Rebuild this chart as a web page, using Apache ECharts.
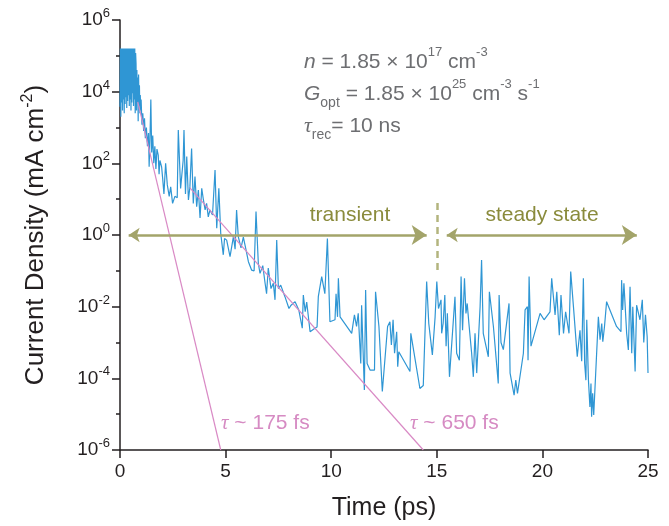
<!DOCTYPE html>
<html>
<head>
<meta charset="utf-8">
<script src="https://cdn.jsdelivr.net/npm/echarts@6/dist/echarts.min.js"></script>
<style>
html,body{margin:0;padding:0;background:#fff;}
#chart{width:669px;height:526px;}
</style>
</head>
<body>
<div id="chart"></div>
<script>
// ---- data ----
const timePs = [
0.00,0.02,0.04,0.06,0.08,0.10,0.12,0.14,0.16,0.18,0.20,0.22,0.24,0.26,0.28,0.30,0.32,0.34,0.36,0.38,
0.40,0.42,0.44,0.46,0.48,0.50,0.52,0.54,0.56,0.58,0.60,0.62,0.64,0.66,0.68,0.70,0.72,0.74,
0.76,0.78,0.80,0.82,0.84,0.86,0.88,0.90,0.92,0.94,0.96,0.98,
1.00,1.04,1.08,1.12,1.16,1.20,1.25,1.30,1.35,1.38,1.42,1.46,1.50,1.55,1.60,1.65,1.70,1.75,1.81,1.85,1.89,
1.97,2.02,2.08,2.16,2.24,2.33,2.40,2.49,2.60,2.71,2.76,2.87,2.95,2.99,3.03,3.10,3.16,3.24,3.31,3.39,
3.47,3.55,3.63,3.71,3.79,3.87,3.95,4.03,4.10,4.18,4.26,4.38,4.50,4.58,4.68,4.77,4.89,4.95,5.05,5.21,
5.37,5.45,5.52,5.60,5.73,5.84,5.95,6.08,6.23,6.35,6.44,6.55,6.63,6.76,6.87,6.94,7.02,7.15,7.26,7.34,
7.42,7.50,7.61,7.81,8.00,8.10,8.29,8.47,8.63,8.68,8.77,8.84,9.00,9.23,9.33,9.39,9.55,9.63,9.70,9.82,
9.94,10.18,10.23,10.30,10.34,10.42,10.97,11.10,11.20,11.28,11.40,11.44,11.57,11.63,11.70,11.84,12.05,12.10,12.26,12.42,
12.67,12.78,12.85,12.93,13.00,13.10,13.15,13.20,13.73,13.77,14.20,14.36,14.52,14.62,14.79,14.92,15.00,15.08,15.20,15.23,
15.30,15.38,15.44,15.50,15.60,15.86,15.94,16.07,16.15,16.22,16.31,16.38,16.44,16.52,16.65,16.73,16.81,16.89,17.05,17.12,
17.20,17.44,17.49,17.68,17.91,17.95,18.04,18.15,18.42,18.47,18.66,18.74,18.82,19.10,19.18,19.29,19.32,19.37,19.46,19.89,
20.08,20.36,20.44,20.60,20.68,20.80,20.88,21.00,21.10,21.26,21.34,21.47,21.65,21.78,21.86,21.94,22.00,22.06,22.10,22.18,
22.25,22.30,22.33,22.38,22.43,22.65,22.73,22.81,22.86,22.94,23.04,23.51,23.72,23.75,23.80,23.86,23.99,24.07,24.15,24.23,
24.28,24.39,24.46,24.62,24.73,24.80,24.88,24.96,25.00
];
const density = [
3.8e3,1.6e5,2.0e3,1.6e5,5.0e3,1.6e5,3.0e3,1.6e5,6.0e3,1.6e5,2.5e3,1.6e5,4.5e3,1.6e5,7.0e3,1.6e5,3.5e3,1.6e5,5.5e3,1.6e5,
8.0e3,1.6e5,4.0e3,1.6e5,6.0e3,1.6e5,3.0e3,1.6e5,5.0e3,1.6e5,9.0e3,1.6e5,4.0e3,1.6e5,6.0e3,1.6e5,2.5e3,1.2e5,
6.0e4,3.0e3,4.0e4,5.0e3,2.5e4,1.5e3,3.0e4,4.0e3,1.5e4,2.5e3,8.0e3,3.0e3,
6.0e3,1.2e3,2.5e3,8.0e2,1.8e3,5.0e2,1.0e3,3.0e2,7.0e2,80,5.0e2,6.0e3,2.0e2,6.0e2,1.0e2,3.0e2,70,2.5e2,1.7e2,50,1.2e2,
80,38,14,100,25,12,22,7.6,12,11,850,20,18,120,850,14,155,9.5,22,260,
7.6,43,6.2,18,3.0,20,9.5,5.0,7.6,3.2,5.0,3.6,65,1.55,20,1.1,0.28,0.8,0.72,0.25,
0.9,0.4,5.0,0.9,0.44,0.87,0.43,0.18,0.105,0.1,4.5,0.16,0.085,0.14,0.045,0.023,0.12,0.032,0.045,0.0155,
0.72,0.032,0.04,0.019,0.0089,0.011,0.0138,0.0079,0.0025,0.021,0.0072,0.0135,0.002,0.0025,0.0027,0.019,0.069,0.076,0.023,0.8,
0.0038,0.0043,0.023,0.0052,0.062,0.0052,0.0018,0.0059,0.0028,0.0065,2.6e-4,0.011,4.7e-5,0.029,2.6e-4,1.7e-4,1.7e-4,0.026,0.0028,4.3e-5,
0.0028,0.0038,8.5e-4,0.0043,5.0e-4,0.002,2.1e-4,5.5e-4,1.55e-4,0.0018,5.2e-5,6.3e-5,0.05,0.0034,4.5e-4,0.0052,0.05,0.0089,0.0155,0.0018,
0.0034,0.021,7.9e-4,0.0065,1.1e-4,0.019,5.0e-4,3.2e-4,0.069,0.0022,0.062,0.0065,0.0123,0.0034,5.0e-4,1.1e-4,0.0018,1.4e-4,0.01,0.2,
0.0018,4.0e-4,0.026,0.0028,7.2e-5,0.021,0.001,6.3e-4,0.0123,1.4e-4,3.4e-5,8.9e-5,3.8e-5,5.0e-4,0.0081,0.01,3.2e-4,0.069,7.9e-4,0.0065,
0.0043,0.0072,0.062,0.0059,0.026,0.0016,0.021,0.0018,0.0072,0.0018,0.095,0.01,4.0e-4,0.0022,3.0e-4,0.062,2.6e-4,8.9e-5,0.0043,8.9e-5,
1.6e-5,7.2e-5,8.5e-6,3.8e-5,9.5e-6,0.0052,0.0012,0.0034,0.00105,0.0028,0.0138,0.0028,0.002,0.055,0.0081,0.045,0.0018,6.2e-4,0.036,5.0e-4,
0.01,1.55e-4,0.011,0.0043,0.0155,0.001,0.0059,0.00145,1.4e-4
];
// exponential fits (two end points each)
const fit175 = [[0.84, 5.2e3], [4.77, 1e-6]];
const fit650 = [[3.30, 21], [14.36, 1e-6]];
// annotation arrows / divider
const transientArrow = [[0.41, 1], [14.52, 1]];
const steadyArrow = [[15.47, 1], [24.47, 1]];
const divider = [[15, 7.8], [15, 0.093]];
const xTicks = [0, 25, 5];  // min, max, step

const traceData = timePs.map((t, i) => [t, density[i]]);

const FONT = '"Liberation Sans", Arial, Helvetica, sans-serif';
const SERIF = '"Liberation Serif", "DejaVu Serif", serif';
const BLUE = '#2f96d4', PINK = '#d98ac5', OLIVE = '#8a8b3c', OLIVE_L = '#a3a46a';
const GREY = '#6d6e71', PINK_T = '#d68bc3';

const chart = echarts.init(document.getElementById('chart'), null, {renderer: 'canvas'});

const tickRich = {
  b: {fontSize: 19, lineHeight: 26, fontFamily: FONT, color: '#231f20'},
  s: {fontSize: 13, lineHeight: 10, verticalAlign: 'top', fontFamily: FONT, color: '#231f20'}
};
const parRich = {
  m: {fontSize: 21, lineHeight: 32, fontFamily: FONT, fill: GREY},
  i: {fontSize: 21, lineHeight: 32, fontFamily: FONT, fontStyle: 'italic', fill: GREY},
  t: {fontSize: 22, lineHeight: 32, fontFamily: SERIF, fontStyle: 'italic', fill: GREY},
  sup: {fontSize: 13, lineHeight: 12, verticalAlign: 'top', fontFamily: FONT, fill: GREY},
  sub: {fontSize: 14, lineHeight: 6, verticalAlign: 'bottom', fontFamily: FONT, fill: GREY}
};
const pinkRich = {
  t: {fontSize: 21, fontFamily: SERIF, fontStyle: 'italic', fill: PINK_T},
  m: {fontSize: 21, fontFamily: FONT, fill: PINK_T}
};
const oliveRich = {x: {fontSize: 21, fontFamily: FONT, fill: OLIVE}};

function txt(x, y, text, rich, align) {
  return {type: 'text', x: x, y: y, z: 10,
    style: {text: text, rich: rich, align: align || 'left', verticalAlign: 'middle', fontFamily: FONT}};
}

chart.setOption({
  animation: false,
  grid: {left: 120, top: 20, right: 21, bottom: 76, containLabel: false, outerBoundsMode: 'none'},
  xAxis: {
    type: 'value', min: xTicks[0], max: xTicks[1], interval: xTicks[2],
    axisLine: {show: true, lineStyle: {color: '#231f20', width: 1.5}},
    axisTick: {show: true, inside: false, length: 8, lineStyle: {color: '#231f20', width: 1.5}},
    splitLine: {show: false},
    axisLabel: {fontSize: 19, fontFamily: FONT, color: '#231f20', margin: 12},
    name: 'Time (ps)', nameLocation: 'middle', nameGap: 46,
    nameTextStyle: {fontSize: 25, fontFamily: FONT, color: '#231f20'}
  },
  yAxis: [
    {
      type: 'log', logBase: 10, min: 1e-6, max: 1e6, interval: 1, position: 'left', offset: 0,
      axisLine: {show: false},
      axisTick: {show: true, inside: false, length: 4, lineStyle: {color: '#231f20', width: 1.5}},
      axisLabel: {show: false},
      splitLine: {show: false}
    },
    {
      type: 'log', logBase: 100, min: 1e-6, max: 1e6, interval: 1, position: 'left', offset: 0,
      axisLine: {show: true, lineStyle: {color: '#231f20', width: 1.5}},
      axisTick: {show: true, inside: false, length: 8, lineStyle: {color: '#231f20', width: 1.5}},
      splitLine: {show: false},
      axisLabel: {
        margin: 10,
        formatter: function (v) {
          const e = Math.round(Math.log10(v));
          return '{b|10}{s|' + e + '}';
        },
        rich: tickRich
      },
      name: '{n|Current Density (mA cm}{s|-2}{n|)}',
      nameLocation: 'middle', nameRotate: 90, nameGap: 68,
      nameTextStyle: {
        rich: {
          n: {fontSize: 26, lineHeight: 32, fontFamily: FONT, color: '#231f20'},
          s: {fontSize: 16, lineHeight: 12, verticalAlign: 'top', fontFamily: FONT, color: '#231f20'}
        }
      }
    }
  ],
  series: [
    {
      type: 'line', name: 'trace', yAxisIndex: 1, data: traceData,
      showSymbol: false, symbol: 'none', clip: true,
      lineStyle: {color: BLUE, width: 1.2}, z: 3
    },
    {
      type: 'line', name: 'fit175', yAxisIndex: 1, data: fit175, showSymbol: false, symbol: 'none',
      lineStyle: {color: PINK, width: 1.2}, z: 4
    },
    {
      type: 'line', name: 'fit650', yAxisIndex: 1, data: fit650, showSymbol: false, symbol: 'none',
      lineStyle: {color: PINK, width: 1.2}, z: 4
    },
    {
      type: 'lines', coordinateSystem: 'cartesian2d', xAxisIndex: 0, yAxisIndex: 1,
      symbol: ['arrow', 'arrow'], symbolSize: [11, 15],
      lineStyle: {color: OLIVE_L, width: 2.5, opacity: 1, curveness: 0},
      itemStyle: {color: OLIVE},
      data: [{coords: transientArrow}, {coords: steadyArrow}], z: 5
    },
    {
      type: 'lines', coordinateSystem: 'cartesian2d', xAxisIndex: 0, yAxisIndex: 1,
      symbol: ['none', 'none'],
      lineStyle: {color: '#b3b47e', width: 2.5, opacity: 1, type: [7, 5]},
      data: [{coords: divider}], z: 5
    }
  ],
  graphic: [
    txt(350, 215, '{x|transient}', oliveRich, 'center'),
    txt(542, 215, '{x|steady state}', oliveRich, 'center'),
    txt(221, 423, '{t|τ}{m| ~ 175 fs}', pinkRich),
    txt(410, 423, '{t|τ}{m| ~ 650 fs}', pinkRich),
    txt(304, 62, '{i|n}{m| = 1.85 × 10}{sup|17}{m| cm}{sup|-3}', parRich),
    txt(304, 94, '{i|G}{sub|opt}{m| = 1.85 × 10}{sup|25}{m| cm}{sup|-3}{m| s}{sup|-1}', parRich),
    txt(304, 126, '{t|τ}{sub|rec}{m|= 10 ns}', parRich)
  ]
});
</script>
</body>
</html>
